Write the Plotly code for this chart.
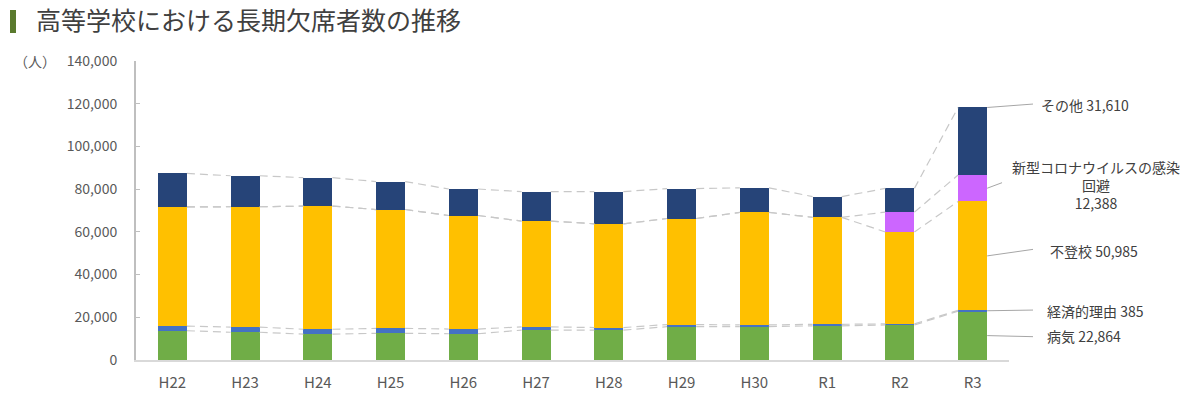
import plotly.graph_objects as go

categories = ["H22", "H23", "H24", "H25", "H26", "H27", "H28", "H29", "H30", "R1", "R2", "R3"]
illness = [13700, 13000, 12100, 12500, 12300, 14000, 14000, 15600, 15600, 16000, 16400, 22864]
economic = [2200, 2400, 2300, 2300, 2200, 1500, 1200, 1000, 800, 700, 500, 385]
futoko = [55776, 56361, 57664, 55655, 53156, 49563, 48565, 49643, 52723, 50100, 43051, 50985]
covid = [0, 0, 0, 0, 0, 0, 0, 0, 0, 0, 9300, 12388]
other = [15700, 14500, 13300, 13100, 12400, 13800, 15100, 14000, 11500, 9700, 11100, 31610]

series_names = ["病気", "経済的理由", "不登校", "新型コロナウイルスの感染回避", "その他"]
series_values = [illness, economic, futoko, covid, other]
series_colors = ["#70AD47", "#4472C4", "#FFC000", "#CC66FF", "#264478"]

y_tick_vals = [0, 20000, 40000, 60000, 80000, 100000, 120000, 140000]
Y_MAX = 140000
BAR_W = 0.4
FONT = "Noto Sans CJK JP"
n = len(categories)
xs = list(range(n))

fig = go.Figure()
for name, vals, col in zip(series_names, series_values, series_colors):
    fig.add_trace(go.Bar(x=xs, y=vals, name=name, width=BAR_W,
                         marker=dict(color=col, line=dict(width=0)),
                         showlegend=False))

# cumulative tops for series lines
cum = []
run = [0] * n
for vals in series_values:
    run = [a + b for a, b in zip(run, vals)]
    cum.append(run[:])

for level in cum:
    lx, ly = [], []
    for i in range(n - 1):
        lx += [i + BAR_W / 2, i + 1 - BAR_W / 2, None]
        ly += [level[i], level[i + 1], None]
    fig.add_trace(go.Scatter(x=lx, y=ly, mode="lines", hoverinfo="skip",
                             line=dict(color="#C8C8C8", width=1.2, dash="8px,5px"),
                             showlegend=False))

def xp(x):
    return (x + 0.5) / n

def yp(v):
    return v / Y_MAX

last = n - 1
bottoms = [0] + [c[last] for c in cum[:-1]]
tops = [c[last] for c in cum]
mids = [(b + t) / 2 for b, t in zip(bottoms, tops)]
starts_y = [mids[0], mids[1], mids[2], mids[3], tops[4]]

# label layout (paper units): end of leader, text position, anchor
label_layout = [
    (1.0275, 0.078, 1.041, 0.080, "left"),
    (1.0275, 0.167, 1.041, 0.164, "left"),
    (1.0275, 0.370, 1.0447, 0.3645, "left"),
    (0.992, 0.593, 1.0997, 0.585, "center"),
    (1.0275, 0.856, 1.034, 0.853, "left"),
]
label_texts = [
    f"病気 {illness[last]:,}",
    f"経済的理由 {economic[last]:,}",
    f"不登校 {futoko[last]:,}",
    f"新型コロナウイルスの感染<br>回避<br>{covid[last]:,}",
    f"その他 {other[last]:,}",
]

shapes = []
annotations = []
for sy, (ex, ey, tx, ty, anc), txt in zip(starts_y, label_layout, label_texts):
    shapes.append(dict(type="line", xref="paper", yref="paper",
                       x0=xp(last + BAR_W / 2), y0=yp(sy), x1=ex, y1=ey,
                       line=dict(color="#A6A6A6", width=1)))
    annotations.append(dict(xref="paper", yref="paper", x=tx, y=ty, text=txt,
                            showarrow=False, xanchor=anc, yanchor="middle",
                            align="center", font=dict(family=FONT, size=14, color="#404040")))

# title accent bar
shapes.append(dict(type="rect", xref="paper", yref="paper",
                   x0=(10 - 136) / 873, x1=(16 - 136) / 873,
                   y0=(360 - 33) / 299, y1=(360 - 10) / 299,
                   fillcolor="#5A7A2E", line=dict(width=0)))

annotations.append(dict(xref="paper", yref="paper", x=-0.0893, y=1.0, text="（人）",
                        showarrow=False, xanchor="right", yanchor="middle",
                        font=dict(family=FONT, size=14, color="#595959")))

fig.update_layout(
    width=1200, height=397,
    margin=dict(l=136, r=191, t=61, b=37, autoexpand=False),
    paper_bgcolor="white", plot_bgcolor="white",
    barmode="stack",
    title=dict(text="高等学校における長期欠席者数の推移", xref="container", yref="container",
               x=36 / 1200, y=1 - 21 / 397, xanchor="left", yanchor="middle",
               font=dict(family=FONT, size=25, color="#404040")),
    xaxis=dict(range=[-0.5, n - 0.5], tickvals=xs, ticktext=categories,
               showline=True, linecolor="#D9D9D9", linewidth=1.5, ticks="",
               showgrid=False, zeroline=False, ticklabelstandoff=8, automargin=False,
               tickfont=dict(family=FONT, size=15, color="#595959")),
    yaxis=dict(range=[0, Y_MAX], tickvals=y_tick_vals, tickformat=",",
               showline=True, linecolor="#BFBFBF", linewidth=2,
               ticks="inside", ticklen=4, tickcolor="#BFBFBF",
               showgrid=False, zeroline=False, ticklabelstandoff=14, automargin=False,
               tickfont=dict(family=FONT, size=14, color="#595959")),
    shapes=shapes,
    annotations=annotations,
    showlegend=False,
)

fig.write_html("out.html", config={"displayModeBar": False},
               post_script="document.body.style.margin='0';document.body.style.overflow='hidden';")
